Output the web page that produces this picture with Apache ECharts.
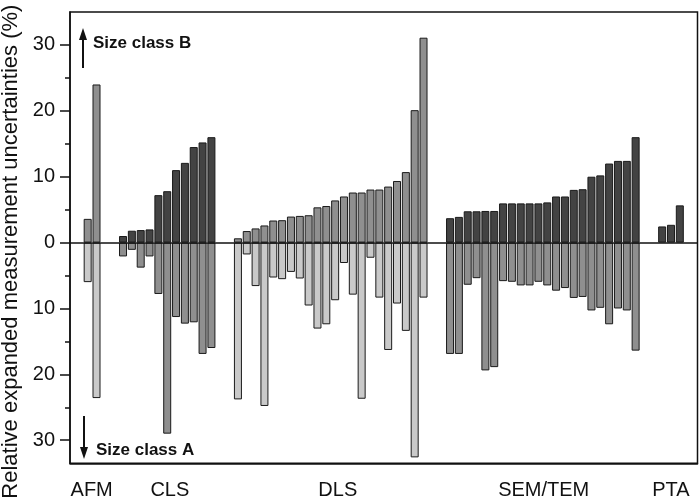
<!DOCTYPE html>
<html>
<head>
<meta charset="utf-8">
<script src="https://cdn.jsdelivr.net/npm/echarts@6/dist/echarts.min.js"></script>
<style>html,body{margin:0;padding:0;background:#fff}#c{width:699px;height:504px}</style>
</head>
<body>
<div id="c"></div>
<script>
// Relative expanded measurement uncertainties (%) per laboratory
// Size class B (plotted upward) and size class A (plotted downward)
const methods = ['AFM', 'CLS', 'DLS', 'SEM/TEM', 'PTA'];
const slotStart = [0, 4, 17, 41, 65]; // first lab slot of each method (gaps between methods)

const afmB = [3.6, 24.0];
const afmA = [6.0, 23.6];
const clsB = [1.0, 1.8, 1.9, 2.0, 7.2, 7.8, 11.0, 12.1, 14.5, 15.2, 16.0];
const clsA = [2.1, 1.1, 3.8, 2.1, 7.8, 29.0, 11.3, 12.3, 12.1, 16.9, 16.0];
const dlsB = [0.65, 1.75, 2.15, 2.6, 3.35, 3.4, 3.95, 4.05, 4.15, 5.35, 5.55, 6.4, 7.0, 7.6, 7.6, 8.05, 8.05, 8.5, 9.35, 10.7, 20.1, 31.1];
const dlsA = [23.8, 1.8, 6.6, 24.8, 5.3, 5.55, 4.45, 5.45, 9.55, 13.05, 12.4, 8.75, 3.1, 7.9, 23.7, 2.3, 8.35, 16.3, 9.25, 13.4, 32.6, 8.35];
const semB = [3.7, 3.9, 4.75, 4.75, 4.8, 4.8, 5.95, 5.95, 5.95, 5.95, 5.95, 6.1, 7.0, 7.0, 8.0, 8.1, 10.0, 10.2, 12.0, 12.4, 12.4, 16.0];
const semA = [16.9, 16.9, 6.4, 5.4, 19.4, 18.9, 5.85, 5.95, 6.5, 6.5, 5.95, 6.5, 7.3, 6.9, 8.4, 8.25, 10.3, 9.9, 12.4, 10.0, 10.3, 16.4];
const ptaB = [2.45, 2.7, 5.65];
const ptaA = [];

const valuesB = [afmB, clsB, dlsB, semB, ptaB];
const valuesA = [afmA, clsA, dlsA, semA, ptaA];

// x-axis group labels (position in lab-slot units) and y tick labels
const groupLabelPos = [0.45, 9.3, 28.3, 51.6, 66.0];
const yMajorTicks = [-30, -20, -10, 0, 10, 20, 30];
const yMinorTicks = [-25, -15, -5, 5, 15, 25];

// styles
const DARK = '#434343', MID = '#8f8f8f', LIGHT = '#c9c9c9';
const colorB = [MID, DARK, MID, DARK, DARK];
const colorA = [LIGHT, MID, LIGHT, MID, MID];

function build(vals, colors, sign) {
  const out = [];
  vals.forEach((arr, m) => {
    arr.forEach((v, i) => {
      out.push({ value: [slotStart[m] + i, sign * v], itemStyle: { color: colors[m] } });
    });
  });
  return out;
}
const dataB = build(valuesB, colorB, 1);
const dataA = build(valuesA, colorA, -1);

const labelMap = {};
groupLabelPos.forEach((p, i) => { labelMap[p] = methods[i]; });

const FONT = 'Liberation Sans, Arial, sans-serif';
const chart = echarts.init(document.getElementById('c'), null, { renderer: 'canvas' });
chart.setOption({
  animation: false,
  backgroundColor: '#fff',
  grid: { left: 70, right: 1.5, top: 12, bottom: 40.7, show: true, borderColor: '#111', borderWidth: 1.5, containLabel: false, outerBoundsMode: 'none' },
  xAxis: {
    type: 'value', min: -2, max: 69,
    axisLine: { show: true, onZero: false, lineStyle: { color: '#111', width: 1.5 } },
    axisTick: { show: false },
    splitLine: { show: false },
    axisLabel: {
      customValues: groupLabelPos,
      formatter: v => labelMap[v] || '',
      fontSize: 20, fontFamily: FONT, color: '#111', margin: 17
    }
  },
  yAxis: [{
    type: 'value', min: -33.5, max: 35, position: 'left',
    axisLine: { show: true, onZero: false, lineStyle: { color: '#111', width: 1.5 } },
    axisTick: { show: true, customValues: yMajorTicks, length: 10, inside: false, lineStyle: { color: '#111', width: 1.5 } },
    axisLabel: { customValues: yMajorTicks, formatter: v => String(Math.abs(v)), fontSize: 20, fontFamily: FONT, color: '#111', margin: 15 },
    splitLine: { show: false },
    name: 'Relative expanded measurement uncertainties (%)',
    nameLocation: 'middle', nameGap: 46, nameRotate: 90,
    nameTextStyle: { fontSize: 22, fontFamily: FONT, color: '#111', padding: [0, 28, 0, 0] }
  }, {
    type: 'value', min: -33.5, max: 35, position: 'left', offset: 0,
    axisLine: { show: false, onZero: false },
    axisTick: { show: true, customValues: yMinorTicks, length: 5, lineStyle: { color: '#111', width: 1.5 } },
    axisLabel: { show: false },
    splitLine: { show: false }
  }],
  series: [{
    name: 'Size class B', type: 'bar', data: dataB, barWidth: 8, barGap: '-100%',
    itemStyle: { borderColor: '#1a1a1a', borderWidth: 1 },
    markLine: { silent: true, symbol: 'none', label: { show: false },
      lineStyle: { color: '#111', width: 1.5, type: 'solid' }, data: [{ yAxis: 0 }] },
    z: 2
  }, {
    name: 'Size class A', type: 'bar', data: dataA, barWidth: 8, barGap: '-100%',
    itemStyle: { borderColor: '#1a1a1a', borderWidth: 1 },
    z: 2
  }],
  graphic: [
    { type: 'line', shape: { x1: 83, y1: 68, x2: 83, y2: 38 }, style: { stroke: '#111', lineWidth: 2 } },
    { type: 'polygon', shape: { points: [[83, 28], [79, 40], [87, 40]] }, style: { fill: '#111' } },
    { type: 'text', left: 93, top: 35, style: { text: 'Size class B', font: 'bold 17px ' + FONT, fill: '#111' } },
    { type: 'line', shape: { x1: 84, y1: 416, x2: 84, y2: 448 }, style: { stroke: '#111', lineWidth: 2 } },
    { type: 'polygon', shape: { points: [[84, 459], [80, 447], [88, 447]] }, style: { fill: '#111' } },
    { type: 'text', left: 96, top: 442, style: { text: 'Size class A', font: 'bold 17px ' + FONT, fill: '#111' } }
  ]
});
</script>
</body>
</html>
